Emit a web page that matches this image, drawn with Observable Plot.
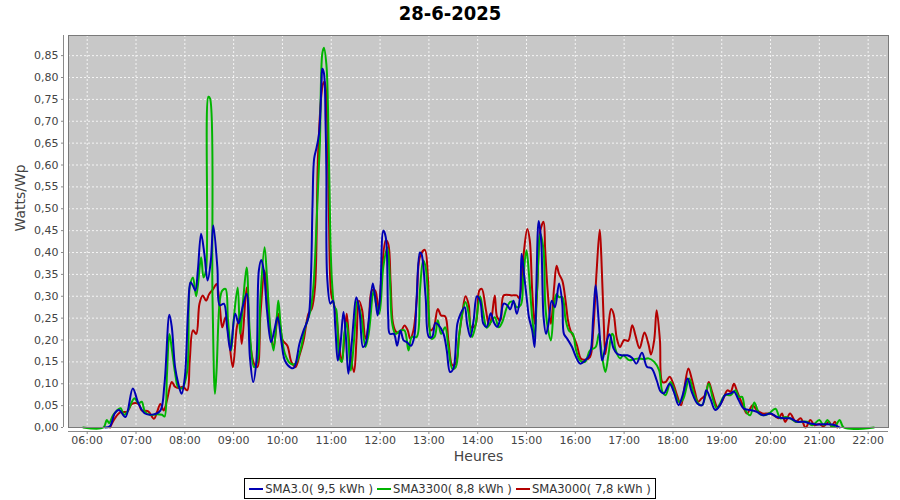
<!DOCTYPE html>
<html><head><meta charset="utf-8">
<script src="https://cdn.jsdelivr.net/npm/d3@7"></script>
<script src="https://cdn.jsdelivr.net/npm/@observablehq/plot@0.6"></script>
<style>
body{margin:0;background:#fff;width:900px;font-family:"DejaVu Sans",sans-serif;}
#title{height:30px;line-height:27px;text-align:center;font-weight:bold;font-size:20px;font-family:"DejaVu Sans Condensed","DejaVu Sans",sans-serif;color:#000;}
#chart{height:445px;}
#legend{display:flex;justify-content:center;margin-top:3px;}
#legend .box{border:1px solid #000;display:flex;align-items:center;height:19px;padding:0 2px;font-size:11.6px;color:#333;}
#legend .item{display:flex;align-items:center;margin:0 2px;white-space:pre;}
#legend .sw{width:14px;height:2px;margin-right:2px;}
</style></head><body>
<div id="title"></div>
<div id="chart"></div>
<div id="legend"></div>
<script>
const chartTitle = "28-6-2025";
const xLabel = "Heures";
const yLabel = "Watts/Wp";
const seriesNames = ["SMA3.0", "SMA3300", "SMA3000"];
const seriesEnergy = ["9,5", "8,8", "7,8"];
const seriesColors = ["#0000b4", "#00b400", "#b40000"];
const xTicks = ["06:00","07:00","08:00","09:00","10:00","11:00","12:00","13:00","14:00","15:00","16:00","17:00","18:00","19:00","20:00","21:00","22:00"];
const yTicks = [0,0.05,0.10,0.15,0.20,0.25,0.30,0.35,0.40,0.45,0.50,0.55,0.60,0.65,0.70,0.75,0.80,0.85];
const xDomain = ["05:37", "22:25"];
const yDomain = [0, 0.896];

const sma30 = [
["06:22",0],["06:28",0.003],["06:34",0.033],["06:39",0.040],["06:47",0.024],["06:56",0.089],["07:03",0.055],["07:11",0.032],
["07:22",0.030],["07:30",0.039],["07:35",0.100],["07:41",0.258],["07:44",0.229],["07:48",0.138],["07:52",0.100],["07:56",0.077],
["08:00",0.115],["08:04",0.267],["08:07",0.332],["08:10",0.324],["08:13",0.313],["08:16",0.359],["08:20",0.443],["08:24",0.397],
["08:28",0.336],["08:32",0.382],["08:35",0.462],["08:40",0.366],["08:43",0.279],["08:48",0.283],["08:52",0.229],["08:56",0.176],
["09:02",0.260],["09:06",0.238],["09:10",0.267],["09:16",0.306],["09:20",0.161],["09:24",0.104],["09:28",0.153],["09:31",0.359],
["09:34",0.383],["09:37",0.359],["09:41",0.267],["09:46",0.195],["09:50",0.222],["09:54",0.252],["09:59",0.192],["10:03",0.153],
["10:10",0.137],["10:14",0.136],["10:21",0.192],["10:26",0.222],["10:32",0.252],["10:35",0.343],["10:37",0.512],["10:39",0.615],
["10:42",0.640],["10:45",0.672],["10:48",0.786],["10:49",0.820],["10:51",0.810],["10:53",0.695],["10:54",0.587],["10:55",0.343],
["10:59",0.283],["11:02",0.290],["11:05",0.229],["11:08",0.153],["11:11",0.184],["11:15",0.264],["11:18",0.207],["11:21",0.123],
["11:25",0.190],["11:31",0.298],["11:35",0.260],["11:39",0.184],["11:42",0.190],["11:46",0.245],["11:51",0.329],["11:54",0.298],
["11:57",0.256],["12:00",0.298],["12:04",0.450],["12:07",0.435],["12:10",0.252],["12:12",0.214],["12:17",0.214],["12:21",0.187],
["12:25",0.222],["12:29",0.199],["12:33",0.195],["12:38",0.187],["12:42",0.207],["12:45",0.298],["12:49",0.400],["12:51",0.396],
["12:56",0.298],["13:00",0.207],["13:04",0.207],["13:08",0.239],["13:12",0.234],["13:18",0.214],["13:22",0.176],["13:26",0.127],
["13:30",0.134],["13:35",0.237],["13:39",0.260],["13:44",0.275],["13:47",0.237],["13:51",0.207],["13:55",0.245],["13:59",0.300],
["14:03",0.290],["14:07",0.237],["14:11",0.230],["14:16",0.261],["14:20",0.240],["14:24",0.230],["14:28",0.250],["14:32",0.283],
["14:36",0.280],["14:40",0.270],["14:44",0.290],["14:48",0.260],["14:52",0.298],["14:54",0.397],["14:57",0.350],["15:01",0.283],
["15:03",0.252],["15:07",0.222],["15:10",0.184],["15:12",0.313],["15:15",0.472],["15:18",0.428],["15:21",0.252],["15:24",0.214],
["15:27",0.237],["15:31",0.290],["15:35",0.275],["15:40",0.329],["15:44",0.283],["15:46",0.214],["15:50",0.203],["15:56",0.184],
["16:00",0.165],["16:06",0.146],["16:12",0.153],["16:18",0.168],["16:22",0.252],["16:25",0.325],["16:29",0.237],["16:33",0.153],
["16:37",0.184],["16:42",0.213],["16:47",0.181],["16:51",0.169],["16:57",0.165],["17:04",0.165],["17:10",0.159],["17:15",0.146],
["17:22",0.171],["17:28",0.139],["17:34",0.135],["17:40",0.108],["17:45",0.082],["17:49",0.078],["17:56",0.100],["18:01",0.082],
["18:07",0.051],["18:12",0.074],["18:18",0.112],["18:23",0.082],["18:30",0.055],["18:36",0.051],["18:41",0.085],["18:46",0.066],
["18:52",0.040],["18:58",0.051],["19:04",0.074],["19:11",0.078],["19:15",0.082],["19:21",0.062],["19:27",0.043],["19:35",0.040],
["19:43",0.036],["19:51",0.028],["20:00",0.032],["20:08",0.024],["20:16",0.021],["20:24",0.021],["20:33",0.013],["20:41",0.013],
["20:49",0.009],["20:57",0.007],["21:16",0.007],["21:25",0]
];

const sma3300 = [
["05:55",0],["06:20",0],["06:24",0.017],["06:27",0.010],["06:32",0.029],["06:41",0.044],["06:45",0.029],["06:49",0.035],
["06:55",0.059],["06:58",0.067],["07:03",0.055],["07:07",0.059],["07:11",0.036],["07:17",0.029],["07:25",0.030],["07:32",0.029],
["07:35",0.025],["07:38",0.120],["07:41",0.214],["07:44",0.180],["07:48",0.125],["07:52",0.092],["07:57",0.090],["08:03",0.130],
["08:06",0.320],["08:10",0.343],["08:14",0.300],["08:20",0.389],["08:23",0.343],["08:26",0.359],["08:29",0.756],["08:31",0.752],
["08:34",0.300],["08:37",0.077],["08:39",0.130],["08:43",0.290],["08:46",0.313],["08:50",0.317],["08:53",0.246],["08:57",0.176],
["09:00",0.246],["09:05",0.320],["09:08",0.214],["09:12",0.298],["09:16",0.366],["09:20",0.214],["09:25",0.138],["09:29",0.150],
["09:33",0.300],["09:38",0.412],["09:41",0.343],["09:45",0.229],["09:49",0.176],["09:53",0.252],["09:55",0.290],["09:58",0.229],
["10:03",0.169],["10:10",0.146],["10:16",0.146],["10:22",0.176],["10:28",0.229],["10:34",0.264],["10:38",0.320],["10:42",0.470],
["10:46",0.650],["10:49",0.855],["10:51",0.868],["10:54",0.830],["10:56",0.730],["10:59",0.427],["11:01",0.330],["11:04",0.275],
["11:06",0.270],["11:10",0.160],["11:13",0.150],["11:16",0.214],["11:19",0.240],["11:24",0.130],["11:28",0.199],["11:32",0.290],
["11:37",0.252],["11:42",0.184],["11:46",0.214],["11:52",0.313],["11:55",0.283],["11:59",0.260],["12:04",0.367],["12:09",0.412],
["12:12",0.344],["12:15",0.237],["12:19",0.214],["12:25",0.222],["12:30",0.222],["12:35",0.176],["12:39",0.207],["12:45",0.207],
["12:49",0.313],["12:53",0.382],["12:56",0.367],["13:00",0.260],["13:03",0.203],["13:07",0.207],["13:11",0.245],["13:15",0.214],
["13:20",0.229],["13:24",0.184],["13:29",0.134],["13:33",0.138],["13:37",0.207],["13:41",0.260],["13:45",0.287],["13:49",0.260],
["13:53",0.207],["13:57",0.230],["14:03",0.300],["14:07",0.260],["14:11",0.228],["14:16",0.240],["14:21",0.252],["14:26",0.229],
["14:30",0.240],["14:36",0.275],["14:40",0.287],["14:44",0.287],["14:48",0.275],["14:53",0.280],["14:56",0.344],["15:00",0.405],
["15:03",0.351],["15:07",0.252],["15:10",0.207],["15:13",0.313],["15:17",0.443],["15:21",0.405],["15:23",0.283],["15:26",0.229],
["15:30",0.199],["15:34",0.283],["15:37",0.305],["15:40",0.298],["15:44",0.298],["15:48",0.248],["15:52",0.222],["15:57",0.214],
["16:01",0.176],["16:06",0.153],["16:12",0.150],["16:18",0.176],["16:25",0.184],["16:29",0.214],["16:33",0.161],["16:37",0.127],
["16:41",0.170],["16:45",0.214],["16:47",0.210],["16:49",0.181],["16:55",0.158],["16:59",0.165],["17:06",0.154],["17:12",0.156],
["17:18",0.158],["17:24",0.156],["17:30",0.158],["17:37",0.150],["17:43",0.131],["17:47",0.082],["17:51",0.074],["17:57",0.104],
["18:01",0.089],["18:07",0.059],["18:12",0.063],["18:20",0.112],["18:25",0.082],["18:31",0.055],["18:36",0.051],["18:44",0.100],
["18:49",0.066],["18:54",0.043],["18:58",0.055],["19:04",0.074],["19:11",0.074],["19:17",0.085],["19:21",0.070],["19:25",0.070],
["19:29",0.040],["19:35",0.028],["19:40",0.057],["19:46",0.032],["19:51",0.028],["19:58",0.032],["20:06",0.043],["20:12",0.021],
["20:18",0.024],["20:24",0.021],["20:31",0.013],["20:37",0.013],["20:45",0.013],["20:51",0.005],["21:00",0.017],["21:05",0.005],
["21:10",0.017],["21:15",0.003],["21:20",0.005],["21:25",0.017],["21:30",0],["22:07",0]
];

const sma3000 = [
["06:28",0],["06:34",0.021],["06:41",0.035],["06:49",0.036],["06:55",0.054],["07:03",0.054],["07:07",0.039],["07:15",0.037],
["07:22",0.020],["07:26",0.036],["07:30",0.054],["07:34",0.039],["07:38",0.062],["07:44",0.104],["07:48",0.093],["07:52",0.090],
["07:58",0.093],["08:03",0.085],["08:06",0.153],["08:10",0.222],["08:14",0.214],["08:18",0.283],["08:22",0.302],["08:26",0.290],
["08:30",0.305],["08:35",0.317],["08:39",0.328],["08:43",0.275],["08:46",0.229],["08:50",0.252],["08:54",0.207],["08:59",0.138],
["09:04",0.230],["09:07",0.250],["09:10",0.191],["09:16",0.320],["09:20",0.199],["09:25",0.146],["09:29",0.138],["09:33",0.260],
["09:38",0.359],["09:41",0.313],["09:45",0.222],["09:49",0.184],["09:55",0.260],["10:00",0.200],["10:06",0.187],["10:11",0.150],
["10:16",0.138],["10:21",0.165],["10:26",0.199],["10:32",0.260],["10:36",0.271],["10:40",0.320],["10:44",0.633],["10:50",0.786],
["10:52",0.790],["10:55",0.700],["10:57",0.500],["11:00",0.305],["11:03",0.283],["11:06",0.260],["11:10",0.184],["11:13",0.150],
["11:16",0.200],["11:19",0.260],["11:23",0.176],["11:28",0.127],["11:31",0.200],["11:34",0.290],["11:38",0.268],["11:42",0.203],
["11:46",0.237],["11:50",0.313],["11:54",0.313],["11:58",0.268],["12:02",0.351],["12:07",0.428],["12:10",0.420],["12:13",0.329],
["12:16",0.237],["12:20",0.218],["12:25",0.218],["12:30",0.233],["12:34",0.222],["12:37",0.203],["12:41",0.222],["12:45",0.290],
["12:49",0.390],["12:55",0.406],["12:59",0.336],["13:02",0.222],["13:06",0.229],["13:11",0.271],["13:15",0.256],["13:20",0.254],
["13:24",0.199],["13:29",0.142],["13:33",0.146],["13:37",0.207],["13:41",0.260],["13:45",0.300],["13:49",0.280],["13:52",0.229],
["13:57",0.233],["14:02",0.313],["14:05",0.317],["14:10",0.270],["14:14",0.233],["14:17",0.250],["14:21",0.302],["14:24",0.252],
["14:28",0.245],["14:32",0.302],["14:42",0.302],["14:48",0.302],["14:51",0.296],["14:55",0.359],["14:57",0.405],["15:01",0.454],
["15:04",0.428],["15:07",0.313],["15:10",0.237],["15:13",0.313],["15:17",0.450],["15:21",0.470],["15:23",0.405],["15:26",0.313],
["15:30",0.237],["15:34",0.321],["15:37",0.370],["15:40",0.351],["15:44",0.336],["15:48",0.290],["15:51",0.245],["15:54",0.222],
["15:58",0.207],["16:02",0.188],["16:07",0.157],["16:12",0.155],["16:18",0.161],["16:22",0.222],["16:26",0.351],["16:30",0.452],
["16:32",0.390],["16:35",0.237],["16:37",0.168],["16:41",0.237],["16:44",0.271],["16:47",0.260],["16:51",0.204],["16:55",0.184],
["17:00",0.200],["17:05",0.198],["17:10",0.234],["17:14",0.210],["17:19",0.181],["17:25",0.217],["17:30",0.190],["17:33",0.167],
["17:37",0.200],["17:40",0.268],["17:44",0.200],["17:47",0.104],["17:51",0.104],["17:56",0.116],["18:01",0.097],["18:05",0.074],
["18:10",0.051],["18:14",0.090],["18:19",0.135],["18:23",0.112],["18:27",0.082],["18:31",0.059],["18:35",0.066],["18:40",0.074],
["18:44",0.104],["18:48",0.082],["18:55",0.047],["19:01",0.062],["19:07",0.085],["19:11",0.082],["19:15",0.100],["19:19",0.082],
["19:25",0.055],["19:31",0.032],["19:38",0.051],["19:43",0.040],["19:50",0.032],["19:58",0.032],["20:04",0.028],["20:10",0.021],
["20:14",0.032],["20:18",0.013],["20:24",0.032],["20:31",0.013],["20:37",0.021],["20:43",0],["20:49",0.017],["20:54",0.005],
["21:00",0.008],["21:05",0.003],["21:12",0.013],["21:15",0.002],["21:19",0.013],["21:22",0]
];

const parse = d3.utcParse("%H:%M");
const seriesData = [sma30, sma3300, sma3000];
const rows = seriesData.flatMap((s, i) => s.map(([t, v]) => ({series: seriesNames[i], time: parse(t), value: v})));
const xTickDates = xTicks.map(parse);
const fmtY = d => d3.format(".2f")(d).replace(".", ",");

document.getElementById("title").textContent = chartTitle;

const lineMarks = [2, 1, 0].map(i => Plot.line(rows.filter(d => d.series === seriesNames[i]), {
  x: "time", y: "value", stroke: seriesColors[i], strokeWidth: 2, curve: "catmull-rom"
}));

const chart = Plot.plot({
  width: 900, height: 445,
  marginLeft: 68, marginRight: 12, marginTop: 5, marginBottom: 48,
  x: {type: "utc", domain: xDomain.map(parse)},
  y: {domain: yDomain},
  style: {fontFamily: "DejaVu Sans, sans-serif", fontSize: "11px", background: "white", overflow: "visible"},
  marks: [
    Plot.frame({fill: "#c8c8c8"}),
    Plot.gridX(xTickDates, {stroke: "#f4f4f4", strokeOpacity: 1, strokeDasharray: "2,2"}),
    Plot.gridY(yTicks, {stroke: "#f4f4f4", strokeOpacity: 1, strokeDasharray: "2,2"}),
    ...lineMarks,
    Plot.frame({stroke: "#7a7a7a"}),
    Plot.ruleX([xDomain.map(parse)[0]], {dx: -5, stroke: "#8a8a8a"}),
    Plot.ruleY([0], {dy: 4, stroke: "#8a8a8a"}),
    Plot.axisY(yTicks, {tickFormat: fmtY, tickSize: 2, tickPadding: 3, dx: -5, label: null, stroke: "#8a8a8a", fill: "#444"}),
    Plot.axisX(xTickDates, {tickFormat: d3.utcFormat("%H:%M"), tickSize: 3, tickPadding: 2, dy: 4, label: null, stroke: "#8a8a8a", fill: "#444"}),
    Plot.text([yLabel], {frameAnchor: "left", rotate: -90, dx: -48, fontSize: 14, fill: "#444"}),
    Plot.text([xLabel], {frameAnchor: "bottom", dy: 33, fontSize: 14, fill: "#444"})
  ]
});
document.getElementById("chart").appendChild(chart);

const legend = document.getElementById("legend");
const box = document.createElement("div");
box.className = "box";
seriesNames.forEach((n, i) => {
  const it = document.createElement("div");
  it.className = "item";
  const sw = document.createElement("span");
  sw.className = "sw";
  sw.style.background = seriesColors[i];
  const tx = document.createElement("span");
  tx.textContent = `${n}( ${seriesEnergy[i]} kWh )`;
  it.appendChild(sw); it.appendChild(tx);
  box.appendChild(it);
});
legend.appendChild(box);
</script>
</body></html>
